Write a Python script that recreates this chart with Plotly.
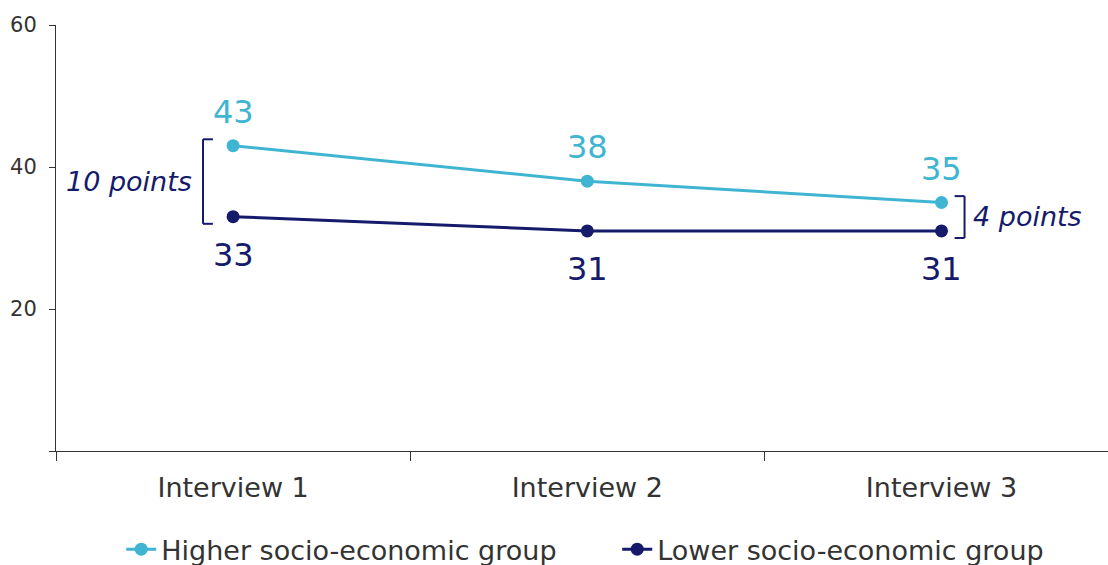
import plotly.graph_objects as go

# Survey waves and the share reported by each socio-economic group
interviews = ["Interview 1", "Interview 2", "Interview 3"]
higher_group = [43, 38, 35]
lower_group = [33, 31, 31]
series_names = ["Higher socio-economic group", "Lower socio-economic group"]
y_ticks = [0, 20, 40, 60]
y_tick_text = ["", "20", "40", "60"]

TEAL = "#3FB5D1"
NAVY = "#151A6B"
GREY = "#333333"
FONT = "DejaVu Sans"

fig = go.Figure()
for name, vals, col in [(series_names[0], higher_group, TEAL), (series_names[1], lower_group, NAVY)]:
    fig.add_trace(go.Scatter(
        x=interviews, y=vals, name=name, mode="lines+markers",
        line=dict(color=col, width=3), marker=dict(color=col, size=13),
    ))

# value labels above the higher series and below the lower series
for i, cat in enumerate(interviews):
    fig.add_annotation(x=cat, y=higher_group[i], text=str(higher_group[i]), showarrow=False,
                       yshift=34, font=dict(family=FONT, size=32, color=TEAL))
    fig.add_annotation(x=cat, y=lower_group[i], text=str(lower_group[i]), showarrow=False,
                       yshift=-38, font=dict(family=FONT, size=32, color=NAVY))


def bracket(idx, side, text):
    """Square bracket spanning the gap between the two series at one interview."""
    top = higher_group[idx] + 0.9
    bot = lower_group[idx] - 1.0
    if side == "left":
        xv, xt = idx - 0.085, idx - 0.057
        label_x, anchor = idx - 0.11, "right"
    else:
        xv, xt = idx + 0.065, idx + 0.037
        label_x, anchor = idx + 0.082, "left"
    line = dict(color=NAVY, width=2)
    fig.add_shape(type="line", x0=xv, x1=xv, y0=bot, y1=top, xref="x", yref="y", line=line)
    fig.add_shape(type="line", x0=xv, x1=xt, y0=top, y1=top, xref="x", yref="y", line=line)
    fig.add_shape(type="line", x0=xv, x1=xt, y0=bot, y1=bot, xref="x", yref="y", line=line)
    fig.add_annotation(x=label_x, y=(higher_group[idx] + lower_group[idx]) / 2, text=f"<i>{text}</i>",
                       showarrow=False, xanchor=anchor, xref="x", yref="y",
                       font=dict(family=FONT, size=27, color=NAVY))


bracket(0, "left", f"{higher_group[0] - lower_group[0]} points")
bracket(2, "right", f"{higher_group[2] - lower_group[2]} points")

fig.update_layout(
    width=1108, height=565,
    margin=dict(l=56, r=0, t=25, b=114, autoexpand=False),
    paper_bgcolor="white", plot_bgcolor="white",
    font=dict(family=FONT, color=GREY),
    showlegend=True,
    legend=dict(orientation="h", x=0.062, xanchor="left", y=-0.174, yanchor="top",
                font=dict(family=FONT, size=27, color=GREY), itemwidth=30,
                entrywidth=451, tracegroupgap=0),
    xaxis=dict(
        type="category", range=[-0.5, 2.47], tickson="boundaries",
        showline=True, linecolor=GREY, linewidth=1,
        ticks="outside", ticklen=9, tickcolor=GREY,
        tickfont=dict(family=FONT, size=27, color=GREY),
        ticklabelstandoff=13, showgrid=False, zeroline=False,
    ),
    yaxis=dict(
        range=[0, 60], tickvals=y_ticks, ticktext=y_tick_text,
        showline=True, linecolor=GREY, linewidth=1,
        ticks="outside", ticklen=6, tickcolor=GREY,
        tickfont=dict(family=FONT, size=21, color=GREY),
        ticklabelstandoff=8, showgrid=False, zeroline=False,
    ),
)

fig.write_html("out.html")
